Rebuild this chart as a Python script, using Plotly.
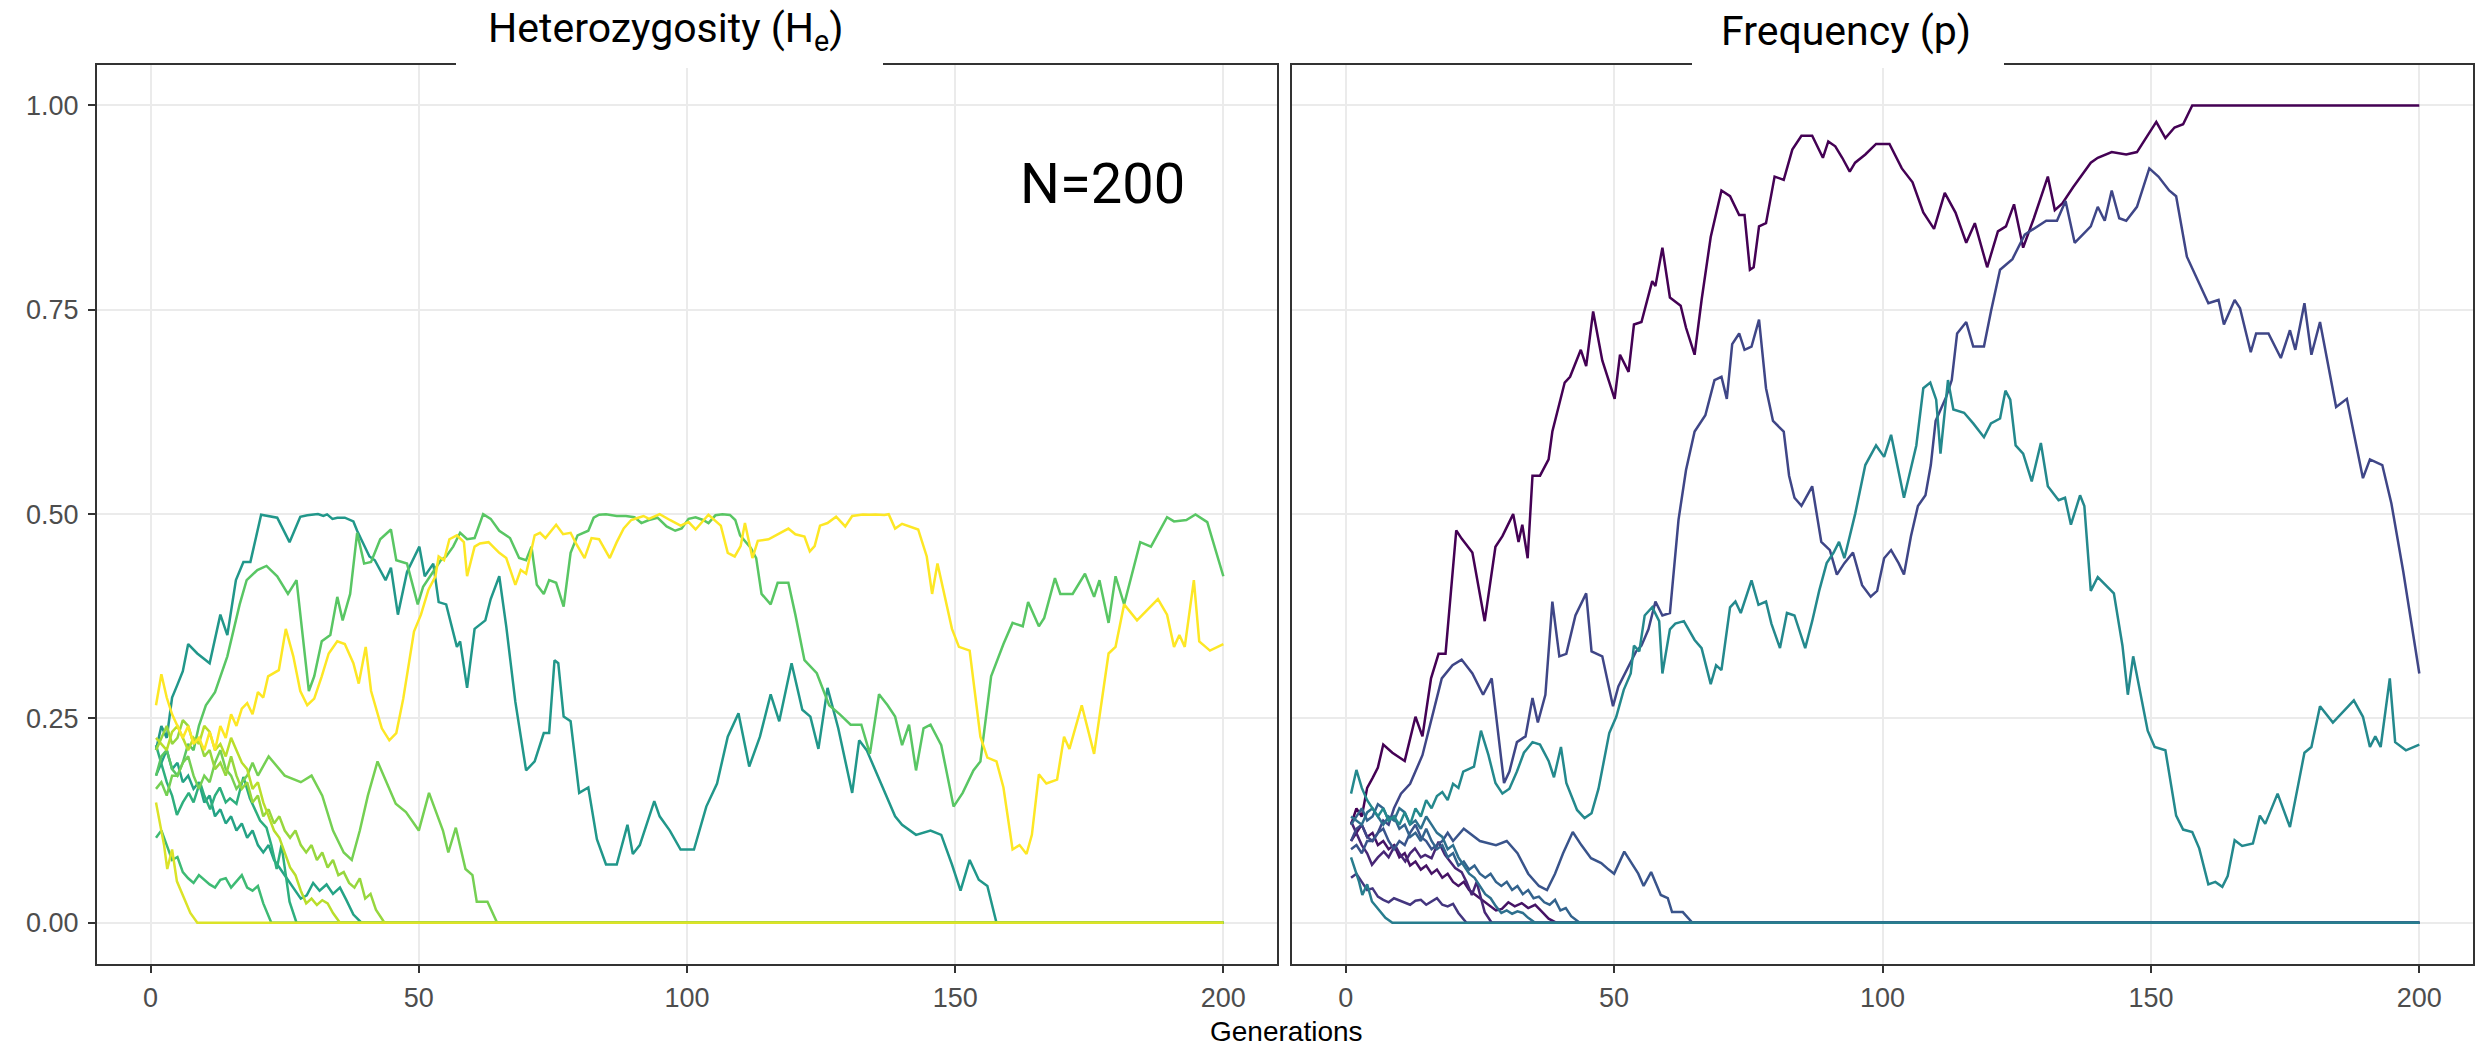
import plotly.graph_objects as go
from plotly.colors import sample_colorscale

# ---------------- data: allele frequency p per replicate ----------------
# replicate 0 (fixes at ~158)
gen_r0 = [1, 2, 3, 4, 5, 6, 7, 8.7, 11, 13, 14.3, 15.9, 17.3, 18.6, 20.6, 21.6, 23.6, 25.9, 27.9, 29.2,
          31.2, 32.2, 32.9, 33.9, 34.8, 36.2, 37.8, 38.5, 40.8, 41.8, 43.8, 44.8, 46.1, 47.8, 50.1, 51.1,
          52.7, 53.7, 55.1, 57.1, 57.7, 59, 60.4, 62.4, 63.4, 65, 66.3, 68, 70, 71.6, 73.3, 74.3, 75.3,
          76, 77, 78.3, 79.9, 81.6, 83.2, 84.9, 86.9, 88.9, 89.9, 91.2, 92.5, 93.9, 94.9, 96.8, 98.8,
          101.3, 103.6, 105.6, 107.6, 109.6, 111.6, 113.6, 115.6, 117.2, 119.5, 121.5, 123, 124.5, 126.2,
          128.2, 130.8, 132.1, 133.5, 135.5, 138.8, 140.1, 142.7, 145.4, 147.4, 149.4, 151, 152.7, 154.4,
          156, 157.7, 200]
p_r0 = [0.12, 0.14, 0.13, 0.165, 0.177, 0.19, 0.218, 0.208, 0.198, 0.252, 0.228, 0.299, 0.329, 0.329,
        0.48, 0.47, 0.453, 0.369, 0.46, 0.473, 0.5, 0.466, 0.487, 0.446, 0.547, 0.547, 0.567, 0.601,
        0.661, 0.668, 0.701, 0.681, 0.748, 0.688, 0.641, 0.695, 0.674, 0.732, 0.735, 0.785, 0.779, 0.826,
        0.765, 0.755, 0.728, 0.695, 0.762, 0.839, 0.896, 0.889, 0.866, 0.866, 0.799, 0.802, 0.852, 0.856,
        0.913, 0.909, 0.946, 0.963, 0.963, 0.936, 0.956, 0.95, 0.936, 0.919, 0.93, 0.94, 0.953, 0.953,
        0.923, 0.906, 0.869, 0.849, 0.893, 0.869, 0.832, 0.856, 0.802, 0.846, 0.852, 0.879, 0.826, 0.862,
        0.913, 0.872, 0.88, 0.9, 0.93, 0.936, 0.943, 0.94, 0.943, 0.963, 0.98, 0.96, 0.973, 0.977, 1.0, 1.0]

# replicate 1 (lost at ~39)
gen_r1 = [1, 2, 3, 4, 5, 6, 7, 8, 9, 10, 11, 12, 13, 14, 15, 16, 17, 18, 19, 20, 21, 22, 23, 24, 25,
          26, 27, 28, 29.1, 30.3, 31.5, 32.8, 34, 35.3, 36.5, 37.8, 39.3, 200]
p_r1 = [0.1, 0.11, 0.12, 0.105, 0.11, 0.095, 0.1, 0.09, 0.095, 0.08, 0.085, 0.07, 0.075, 0.065, 0.07,
        0.06, 0.065, 0.055, 0.06, 0.05, 0.045, 0.05, 0.04, 0.035, 0.03, 0.025, 0.02, 0.015, 0.017, 0.025,
        0.02, 0.024, 0.018, 0.022, 0.014, 0.005, 0.0, 0.0]

# replicate 2 (lost at ~27)
gen_r2 = [1, 2, 3, 4, 4.9, 6, 7.1, 8, 9.2, 10, 11.1, 12, 12.9, 14, 14.8, 16, 17.3, 18.5, 19.5, 20.4,
          21.6, 22.5, 23.5, 24.4, 25.2, 25.9, 27.2, 200]
p_r2 = [0.124, 0.11, 0.095, 0.085, 0.071, 0.08, 0.087, 0.08, 0.095, 0.085, 0.075, 0.085, 0.091, 0.08,
        0.083, 0.079, 0.099, 0.083, 0.075, 0.067, 0.062, 0.05, 0.034, 0.05, 0.03, 0.013, 0.0, 0.0]

# replicate 3 (lost at ~22)
gen_r3 = [1, 2, 3, 4, 5, 6, 7, 8, 9, 10, 11, 12, 13, 14, 15, 16, 17, 18, 19, 20, 21, 22.5, 200]
p_r3 = [0.055, 0.06, 0.05, 0.04, 0.042, 0.032, 0.028, 0.025, 0.03, 0.027, 0.024, 0.022, 0.027, 0.028,
        0.022, 0.026, 0.03, 0.022, 0.02, 0.023, 0.012, 0.0, 0.0]

# replicate 4 (ends at ~0.30)
gen_r4 = [1, 2, 3, 4, 5, 6, 7, 8, 9, 10.3, 12, 14.3, 16.6, 17.9, 19.9, 21.6, 23.6, 25.6, 27.2, 29.5,
          30.5, 31.9, 33.5, 34.8, 35.8, 37.2, 38.5, 39.8, 41.1, 42.8, 44.8, 45.8, 47.8, 49.8, 50.8, 52.4,
          54.1, 55.1, 56.4, 57.7, 59, 60.4, 62, 63.4, 65, 67, 68.7, 70, 71, 72, 73.3, 74.3, 75.6, 77,
          78.3, 79.6, 81.6, 82.6, 83.6, 84.9, 86.9, 88.6, 90.2, 91.5, 92.9, 94.5, 96.2, 97.8, 99, 100.3,
          101.6, 103, 104, 105.3, 106.6, 108, 109, 109.9, 111.9, 112.9, 113.9, 115.6, 116.9, 118.9, 120.2,
          121.9, 124.2, 126.5, 128.5, 130.5, 132.5, 134.1, 135.8, 137.4, 138.8, 140.1, 141.4, 142.7,
          144.1, 145.4, 147.4, 149.7, 151.4, 153.4, 154.7, 156.7, 159, 160.7, 162.6, 163.6, 165.6, 166.6,
          168.6, 169.6, 171.9, 174.2, 175.9, 176.9, 178.6, 179.9, 181.5, 184.5, 186.5, 189.5, 190.8,
          193.1, 194.8, 197, 200]
p_r4 = [0.1, 0.115, 0.12, 0.105, 0.1, 0.11, 0.125, 0.12, 0.14, 0.158, 0.17, 0.205, 0.265, 0.299, 0.315,
        0.322, 0.305, 0.279, 0.299, 0.171, 0.185, 0.221, 0.228, 0.275, 0.245, 0.279, 0.393, 0.326, 0.329,
        0.376, 0.403, 0.332, 0.326, 0.265, 0.289, 0.309, 0.332, 0.339, 0.359, 0.393, 0.376, 0.379, 0.493,
        0.554, 0.601, 0.621, 0.664, 0.668, 0.641, 0.708, 0.721, 0.701, 0.705, 0.738, 0.654, 0.614, 0.601,
        0.547, 0.52, 0.51, 0.534, 0.466, 0.456, 0.426, 0.44, 0.453, 0.413, 0.399, 0.406, 0.446, 0.456,
        0.44, 0.426, 0.473, 0.51, 0.523, 0.56, 0.614, 0.644, 0.664, 0.721, 0.735, 0.705, 0.705, 0.748,
        0.799, 0.812, 0.842, 0.85, 0.859, 0.859, 0.883, 0.832, 0.842, 0.852, 0.876, 0.859, 0.896, 0.862,
        0.859, 0.876, 0.923, 0.913, 0.896, 0.889, 0.815, 0.782, 0.758, 0.762, 0.732, 0.762, 0.752, 0.698,
        0.721, 0.721, 0.691, 0.725, 0.701, 0.758, 0.695, 0.735, 0.631, 0.641, 0.544, 0.567, 0.56, 0.513,
        0.43, 0.305]

# replicate 5 (lost at ~65)
gen_r5 = [1, 2, 3, 4, 5, 6, 7, 8, 9, 10, 11, 12, 13, 14, 15, 16, 17, 18, 19, 20, 22, 25, 28, 30, 32,
          34, 36, 37.5, 39, 40.5, 42.3, 43.9, 45.7, 47.6, 49, 50, 51.9, 53, 54.5, 55.5, 56.9, 58.7, 60,
          60.8, 62.8, 64.6, 200]
p_r5 = [0.09, 0.095, 0.085, 0.1, 0.1, 0.11, 0.115, 0.1, 0.09, 0.1, 0.095, 0.11, 0.12, 0.105, 0.1, 0.09,
        0.095, 0.1, 0.11, 0.1, 0.115, 0.1, 0.095, 0.1, 0.085, 0.06, 0.045, 0.04, 0.06, 0.085, 0.111,
        0.095, 0.079, 0.073, 0.065, 0.06, 0.087, 0.075, 0.06, 0.045, 0.062, 0.034, 0.03, 0.013, 0.013,
        0.0, 0.0]

# replicate 6 (lost at ~44)
gen_r6 = [1, 2, 3, 4, 5, 6, 7, 8, 9, 10, 11, 12, 13, 14, 15, 16, 17, 18, 19, 20, 21, 22, 23, 24, 25,
          26, 27, 28, 29, 30, 31, 32, 33, 34, 35, 36, 37, 38, 39, 40, 41, 42, 43.6, 200]
p_r6 = [0.12, 0.13, 0.14, 0.125, 0.13, 0.145, 0.14, 0.125, 0.13, 0.115, 0.12, 0.105, 0.11, 0.1, 0.115,
        0.1, 0.09, 0.095, 0.08, 0.085, 0.07, 0.075, 0.065, 0.07, 0.06, 0.055, 0.06, 0.05, 0.045, 0.05,
        0.04, 0.045, 0.035, 0.04, 0.03, 0.032, 0.025, 0.022, 0.028, 0.015, 0.018, 0.008, 0.0, 0.0]

# replicate 7 (lost at ~35)
gen_r7 = [1, 2, 3, 4, 5, 6, 7, 8, 9, 10, 11, 12, 13, 14, 15, 16, 17, 18, 19, 20, 21, 22, 23, 24, 25,
          26, 27, 28, 29, 30, 31, 32, 33, 34, 35.3, 200]
p_r7 = [0.13, 0.125, 0.12, 0.135, 0.14, 0.13, 0.12, 0.13, 0.125, 0.14, 0.135, 0.12, 0.125, 0.115, 0.13,
        0.12, 0.11, 0.105, 0.09, 0.095, 0.08, 0.07, 0.06, 0.055, 0.045, 0.035, 0.03, 0.02, 0.012, 0.015,
        0.011, 0.014, 0.012, 0.006, 0.0, 0.0]

# replicate 8 (lost at ~9)
gen_r8 = [1, 2, 2.5, 3.1, 4, 4.9, 6.5, 7.4, 8.7, 200]
p_r8 = [0.08, 0.06, 0.05, 0.034, 0.047, 0.026, 0.013, 0.006, 0.0, 0.0]

# replicate 9 (ends at ~0.22)
gen_r9 = [1, 2, 3, 4, 5, 6, 7, 8, 9, 10, 11, 12, 13, 14, 15, 16, 17, 18, 19, 20, 21, 21.9, 23.9, 25.2,
          26.6, 27.9, 29.2, 30.5, 31.9, 33.2, 34.8, 36.2, 37.8, 38.8, 40.1, 41.1, 43.1, 44.5, 45.8, 47.1,
          49.1, 50.4, 51.8, 53.1, 53.7, 54.7, 55.7, 57.1, 58.4, 59, 60.4, 61.4, 63, 65, 66.3, 68, 69, 70,
          71.6, 72.6, 73.6, 75.6, 76.9, 78.3, 79.3, 80.9, 82.2, 83.6, 85.6, 86.9, 88.2, 89.6, 90.9, 91.9,
          92.9, 94.9, 96.8, 98.8, 100.3, 101.6, 104, 106.3, 107.6, 108.9, 110, 110.8, 112.2, 113.2, 115.2,
          116.9, 118.9, 120.2, 121.9, 122.9, 123.8, 124.8, 126.2, 127.8, 129.5, 130.8, 132.8, 134, 135.1,
          136.8, 137.6, 138.8, 140.1, 143.1, 144.7, 145.7, 146.7, 149.4, 150.7, 152.7, 154.7, 156, 157.7,
          159, 160.7, 162, 163.3, 164.3, 165.6, 167, 169, 170.3, 171.3, 173.6, 175.9, 178.6, 179.9, 181.5,
          183.9, 187.8, 189.5, 190.8, 191.8, 192.8, 194.5, 195.5, 197.5, 200]
p_r9 = [0.158, 0.187, 0.165, 0.15, 0.14, 0.13, 0.14, 0.125, 0.13, 0.12, 0.135, 0.12, 0.14, 0.13, 0.15,
        0.14, 0.155, 0.16, 0.15, 0.17, 0.165, 0.185, 0.191, 0.235, 0.205, 0.171, 0.158, 0.164, 0.185,
        0.208, 0.221, 0.218, 0.198, 0.178, 0.215, 0.171, 0.138, 0.128, 0.134, 0.164, 0.232, 0.252, 0.285,
        0.305, 0.339, 0.332, 0.376, 0.386, 0.369, 0.305, 0.359, 0.366, 0.369, 0.346, 0.336, 0.292, 0.315,
        0.309, 0.386, 0.393, 0.379, 0.419, 0.389, 0.393, 0.366, 0.336, 0.379, 0.376, 0.336, 0.369, 0.406,
        0.44, 0.453, 0.466, 0.446, 0.5, 0.56, 0.584, 0.57, 0.597, 0.52, 0.584, 0.654, 0.661, 0.64, 0.574,
        0.664, 0.628, 0.624, 0.611, 0.594, 0.611, 0.617, 0.651, 0.64, 0.584, 0.574, 0.54, 0.587, 0.534,
        0.517, 0.52, 0.487, 0.523, 0.51, 0.406, 0.423, 0.403, 0.339, 0.279, 0.326, 0.235, 0.215, 0.211,
        0.131, 0.114, 0.111, 0.091, 0.047, 0.05, 0.044, 0.057, 0.101, 0.094, 0.097, 0.131, 0.121, 0.158,
        0.117, 0.208, 0.215, 0.265, 0.245, 0.272, 0.252, 0.215, 0.228, 0.215, 0.299, 0.221, 0.211, 0.218]

replicates = [(gen_r0, p_r0), (gen_r1, p_r1), (gen_r2, p_r2), (gen_r3, p_r3), (gen_r4, p_r4),
              (gen_r5, p_r5), (gen_r6, p_r6), (gen_r7, p_r7), (gen_r8, p_r8), (gen_r9, p_r9)]

panel_titles = ["Heterozygosity (H<sub>e</sub>)", "Frequency (p)"]
x_ticks = [0, 50, 100, 150, 200]
y_ticks = [0, 0.25, 0.5, 0.75, 1.0]
y_tick_text = ["0.00", "0.25", "0.50", "0.75", "1.00"]
annotation_text = "N=200"
x_title = "Generations"

# ---------------- figure ----------------
W, H = 2476, 1046
n = len(replicates)
col_right = sample_colorscale("Viridis", [i / (2 * n - 1) for i in range(n)])
col_left = sample_colorscale("Viridis", [(i + n) / (2 * n - 1) for i in range(n)])

fig = go.Figure()
for i, (g, p) in enumerate(replicates):
    het = [2 * v * (1 - v) for v in p]
    fig.add_trace(go.Scatter(x=g, y=het, mode="lines", line=dict(color=col_left[i], width=2.5),
                             xaxis="x", yaxis="y", showlegend=False, hoverinfo="skip"))
for i, (g, p) in enumerate(replicates):
    fig.add_trace(go.Scatter(x=g, y=p, mode="lines", line=dict(color=col_right[i], width=2.5),
                             xaxis="x2", yaxis="y2", showlegend=False, hoverinfo="skip"))

def px_x(v):
    return v / W

def px_y(v):
    return 1 - v / H

ydom = [px_y(963.6), px_y(64.6)]
axis_common = dict(showline=True, mirror=True, linecolor="#333333", linewidth=2,
                   showgrid=True, gridcolor="#ebebeb", gridwidth=1.5, zeroline=False)
tickfont = dict(family="Liberation Sans, Arial, sans-serif", size=27, color="#4d4d4d")

fig.update_layout(
    width=W, height=H, margin=dict(l=0, r=0, t=0, b=0),
    paper_bgcolor="white", plot_bgcolor="white",
    xaxis=dict(domain=[px_x(97), px_x(1277)], range=[-10, 210], anchor="y", tickvals=x_ticks,
               ticks="outside", ticklen=7, tickwidth=2, tickcolor="#333333", tickfont=tickfont,
               ticklabelstandoff=2, **axis_common),
    yaxis=dict(domain=ydom, range=[-0.05, 1.05], anchor="x", tickvals=y_ticks, ticktext=y_tick_text,
               ticks="outside", ticklen=7, tickwidth=2, tickcolor="#333333", tickfont=tickfont,
               ticklabelstandoff=4, **axis_common),
    xaxis2=dict(domain=[px_x(1292), px_x(2473)], range=[-10, 210], anchor="y2", tickvals=x_ticks,
                ticks="outside", ticklen=7, tickwidth=2, tickcolor="#333333", tickfont=tickfont,
                ticklabelstandoff=2, **axis_common),
    yaxis2=dict(domain=ydom, range=[-0.05, 1.05], anchor="x2", tickvals=y_ticks,
                showticklabels=False, ticks="", **axis_common),
)

# white boxes behind panel titles (cover the top border)
for x0, x1 in [(456, 883), (1692, 2004)]:
    fig.add_shape(type="rect", xref="paper", yref="paper", x0=px_x(x0), x1=px_x(x1),
                  y0=px_y(68), y1=1, fillcolor="white", line=dict(width=0), layer="above")

title_font = dict(family="Roboto, sans-serif", size=41, color="black")
fig.add_annotation(text=panel_titles[0], xref="paper", yref="paper", x=px_x(666), y=px_y(31),
                   xanchor="center", yanchor="middle", showarrow=False, font=title_font)
fig.add_annotation(text=panel_titles[1], xref="paper", yref="paper", x=px_x(1846), y=px_y(31),
                   xanchor="center", yanchor="middle", showarrow=False, font=title_font)
fig.add_annotation(text=annotation_text, xref="paper", yref="paper", x=px_x(1102), y=px_y(184),
                   xanchor="center", yanchor="middle", showarrow=False,
                   font=dict(family="Roboto, sans-serif", size=56, color="black"))
fig.add_annotation(text=x_title, xref="paper", yref="paper", x=px_x(1286), y=px_y(1031),
                   xanchor="center", yanchor="middle", showarrow=False,
                   font=dict(family="Liberation Sans, Arial, sans-serif", size=28, color="black"))

fig.write_html("out.html")
